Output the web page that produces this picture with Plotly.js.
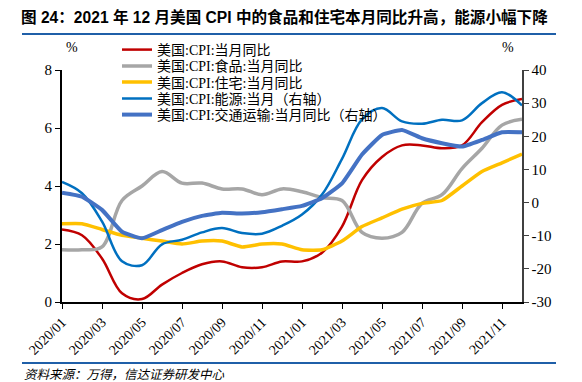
<!DOCTYPE html>
<html>
<head>
<meta charset="utf-8">
<script src="https://cdn.plot.ly/plotly-3.0.1.min.js"></script>
<style>html,body{margin:0;padding:0;background:#fff;}#chart{width:582px;height:382px;}</style>
</head>
<body>
<div id="chart"></div>
<script>
const months = ["2020/01","2020/02","2020/03","2020/04","2020/05","2020/06","2020/07","2020/08","2020/09","2020/10","2020/11","2020/12",
                "2021/01","2021/02","2021/03","2021/04","2021/05","2021/06","2021/07","2021/08","2021/09","2021/10","2021/11","2021/12"];
const cpiYoY = [2.5,2.3,1.5,0.3,0.1,0.6,1.0,1.3,1.4,1.2,1.2,1.4,1.4,1.7,2.6,4.2,5.0,5.4,5.4,5.3,5.4,6.2,6.8,7.0];
const foodYoY = [1.8,1.8,1.9,3.5,4.0,4.5,4.1,4.1,3.9,3.9,3.7,3.9,3.8,3.6,3.5,2.4,2.2,2.4,3.4,3.7,4.6,5.3,6.1,6.3];
const housingYoY = [2.7,2.7,2.5,2.3,2.2,2.1,2.0,2.1,2.1,1.9,2.0,2.0,1.8,1.8,2.1,2.6,2.9,3.2,3.4,3.5,4.0,4.5,4.8,5.1];
const energyYoY = [6.2,2.8,-5.7,-17.7,-18.9,-12.6,-11.2,-9.0,-7.7,-9.2,-9.4,-7.0,-3.6,2.4,13.2,25.1,28.5,24.5,23.8,25.0,24.8,30.0,33.3,29.3];
const transportYoY = [3.0,1.8,-2.2,-8.8,-10.8,-8.3,-5.8,-4.0,-3.1,-3.3,-2.9,-2.0,-1.0,1.3,5.8,14.5,20.4,21.9,19.4,17.9,16.9,18.9,21.2,21.2];
const seriesNames = ["美国:CPI:当月同比","美国:CPI:食品:当月同比","美国:CPI:住宅:当月同比","美国:CPI:能源:当月（右轴）","美国:CPI:交通运输:当月同比（右轴）"];
const xTickLabels = ["2020/01","2020/03","2020/05","2020/07","2020/09","2020/11","2021/01","2021/03","2021/05","2021/07","2021/09","2021/11"];
const leftTicks = [0,2,4,6,8];
const rightTicks = [-30,-20,-10,0,10,20,30,40];
const rightTickText = ["-30","-20","-10","0","10","20","30","40"];

const serif = "Liberation Serif, Times New Roman, Noto Sans CJK SC, serif";
const cjk = "Liberation Serif, Noto Sans CJK SC, serif";

const traces = [
  {x: months, y: cpiYoY, name: seriesNames[0], legend:'legend', type:'scatter', mode:'lines', line:{color:'#C00000', width:2.5, shape:'spline', smoothing:1}},
  {x: months, y: foodYoY, name: seriesNames[1], legend:'legend2', type:'scatter', mode:'lines', line:{color:'#A6A6A6', width:3.5, shape:'spline', smoothing:1}},
  {x: months, y: housingYoY, name: seriesNames[2], legend:'legend3', type:'scatter', mode:'lines', line:{color:'#FFC000', width:3.5, shape:'spline', smoothing:0.5}},
  {x: months, y: energyYoY, name: seriesNames[3], legend:'legend4', type:'scatter', mode:'lines', yaxis:'y2', line:{color:'#0070C0', width:2.5, shape:'spline', smoothing:1}},
  {x: months, y: transportYoY, name: seriesNames[4], legend:'legend5', type:'scatter', mode:'lines', yaxis:'y2', line:{color:'#4472C4', width:4, shape:'spline', smoothing:0.4}}
];

const legendRows = [50, 66.3, 82.5, 98.8, 115];
function mkLegend(row) {
  return {
    x: (117-62)/460, xanchor:'left', y: (302-row)/232, yanchor:'middle',
    bgcolor:'rgba(0,0,0,0)', borderwidth:0,
    font:{family: cjk, size:14, color:'#000'},
    itemwidth:30
  };
}

const layout = {
  width: 582, height: 382,
  margin: {l:62, r:60, t:70, b:80},
  paper_bgcolor:'#fff', plot_bgcolor:'#fff',
  showlegend: true,
  title: {
    text: '<b>图 24：2021 年 12 月美国 CPI 中的食品和住宅本月同比升高，能源小幅下降</b>',
    font: {family: 'Liberation Sans, Arial, Noto Sans CJK SC, sans-serif', size: 15.6, color:'#000'},
    xref:'container', yref:'container', x: 21/582, xanchor:'left', y: 1-17.5/382, yanchor:'middle'
  },
  xaxis: {
    type:'category', categoryorder:'array', categoryarray: months,
    range:[0, 23], tickmode:'array', tickvals: xTickLabels, ticktext: xTickLabels,
    tickangle:-45, ticks:'outside', ticklen:5, tickwidth:1, tickcolor:'#000',
    showline:true, linecolor:'#000', linewidth:1.5, showgrid:false, zeroline:false,
    tickfont:{family: serif, size:14, color:'#000'}
  },
  yaxis: {
    range:[0,8], tickmode:'array', tickvals:leftTicks,
    ticks:'outside', ticklen:5, tickwidth:1, tickcolor:'#000',
    showline:true, linecolor:'#000', linewidth:2, showgrid:false, zeroline:false,
    tickfont:{family: serif, size:15, color:'#000'}
  },
  yaxis2: {
    overlaying:'y', side:'right', range:[-30,40], tickmode:'array', tickvals:rightTicks, ticktext:rightTickText,
    ticks:'outside', ticklen:5, tickwidth:1, tickcolor:'#404040',
    showline:true, linecolor:'#404040', linewidth:1.5, showgrid:false, zeroline:false,
    tickfont:{family: serif, size:15, color:'#000'}
  },
  legend: mkLegend(legendRows[0]),
  legend2: mkLegend(legendRows[1]),
  legend3: mkLegend(legendRows[2]),
  legend4: mkLegend(legendRows[3]),
  legend5: mkLegend(legendRows[4]),
  shapes: [
    {type:'line', xref:'paper', yref:'paper', x0:(22-62)/460, x1:(556-62)/460, y0:(302-34)/232, y1:(302-34)/232, line:{color:'#1F5FA8', width:2}},
    {type:'line', xref:'paper', yref:'paper', x0:(22-62)/460, x1:(556-62)/460, y0:(302-363)/232, y1:(302-363)/232, line:{color:'#1F5FA8', width:2}}
  ],
  annotations: [
    {text:'%', xref:'paper', yref:'paper', x:(72-62)/460, y:(302-47)/232, showarrow:false, xanchor:'center', yanchor:'middle', font:{family:serif, size:14, color:'#000'}},
    {text:'%', xref:'paper', yref:'paper', x:(508-62)/460, y:(302-47)/232, showarrow:false, xanchor:'center', yanchor:'middle', font:{family:serif, size:14, color:'#000'}},
    {text:'资料来源：万得，信达证券研发中心', xref:'paper', yref:'paper', x:(22-62)/460, y:(302-375)/232, showarrow:false, xanchor:'left', yanchor:'middle', font:{family:cjk, size:12.5, color:'#000', style:'italic'}}
  ]
};

Plotly.newPlot('chart', traces, layout, {displayModeBar:false, staticPlot:true});
</script>
</body>
</html>
